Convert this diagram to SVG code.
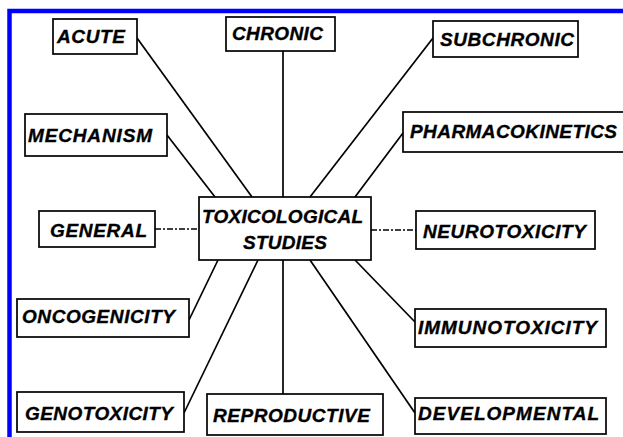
<svg xmlns="http://www.w3.org/2000/svg" width="623" height="437" viewBox="0 0 623 437">
  <style>
    .box { fill: #ffffff; stroke: #000000; stroke-width: 1.7; }
    .lbl { font-family: "Liberation Sans", Arial, sans-serif; font-size: 19px; font-weight: bold; font-style: italic; fill: #000000; stroke: #000000; stroke-width: 0.35; }
    .link { stroke: #000000; stroke-width: 1.7; fill: none; }
    .dash { stroke-dasharray: 6 2 2 2; }
  </style>
  <rect x="0" y="0" width="623" height="437" fill="#ffffff"/>
  <!-- blue frame: only the left and top edges fall inside the canvas -->
  <path d="M9.5 437 V11 H623" fill="none" stroke="#0000ff" stroke-width="4.5"/>

  <g id="connectors">
    <line class="link" x1="137" y1="38" x2="252" y2="197"/>
    <line class="link" x1="283" y1="51" x2="283" y2="197"/>
    <line class="link" x1="433" y1="38" x2="310" y2="197"/>
    <line class="link" x1="167" y1="135" x2="215" y2="197"/>
    <line class="link" x1="403" y1="133" x2="355" y2="197"/>
    <line class="link dash" x1="155" y1="229" x2="199" y2="229"/>
    <line class="link dash" x1="371" y1="230" x2="416" y2="230"/>
    <line class="link" x1="218" y1="260" x2="189" y2="320"/>
    <line class="link" x1="258" y1="260" x2="184" y2="413"/>
    <line class="link" x1="283" y1="260" x2="283" y2="394"/>
    <line class="link" x1="310" y1="260" x2="415" y2="413"/>
    <line class="link" x1="355" y1="260" x2="415" y2="322"/>
  </g>

  <g id="center">
    <rect class="box" x="199" y="197" width="172" height="63"/>
    <text class="lbl" x="202" y="223" textLength="161" lengthAdjust="spacing">TOXICOLOGICAL</text>
    <text class="lbl" x="243" y="249" textLength="84" lengthAdjust="spacing">STUDIES</text>
  </g>
  <g id="acute">
    <rect class="box" x="53" y="19" width="84" height="35"/>
    <text class="lbl" x="57" y="43" textLength="68" lengthAdjust="spacing">ACUTE</text>
  </g>
  <g id="chronic">
    <rect class="box" x="226" y="17" width="109" height="34"/>
    <text class="lbl" x="232" y="40" textLength="91" lengthAdjust="spacing">CHRONIC</text>
  </g>
  <g id="subchronic">
    <rect class="box" x="433" y="21" width="145" height="36"/>
    <text class="lbl" x="440" y="46" textLength="134" lengthAdjust="spacing">SUBCHRONIC</text>
  </g>
  <g id="mechanism">
    <rect class="box" x="25" y="114" width="142" height="42"/>
    <text class="lbl" x="28" y="142" textLength="124" lengthAdjust="spacing">MECHANISM</text>
  </g>
  <g id="pharmacokinetics">
    <rect class="box" x="403" y="112" width="240" height="40"/>
    <text class="lbl" x="410" y="138" textLength="207" lengthAdjust="spacing">PHARMACOKINETICS</text>
  </g>
  <g id="general">
    <rect class="box" x="39" y="211" width="116" height="36"/>
    <text class="lbl" x="50" y="237" textLength="97" lengthAdjust="spacing">GENERAL</text>
  </g>
  <g id="neurotoxicity">
    <rect class="box" x="416" y="211" width="179" height="38"/>
    <text class="lbl" x="423" y="238" textLength="163" lengthAdjust="spacing">NEUROTOXICITY</text>
  </g>
  <g id="oncogenicity">
    <rect class="box" x="17" y="299" width="172" height="38"/>
    <text class="lbl" x="22" y="323" textLength="153" lengthAdjust="spacing">ONCOGENICITY</text>
  </g>
  <g id="immunotoxicity">
    <rect class="box" x="415" y="309" width="191" height="38"/>
    <text class="lbl" x="418" y="334" textLength="179" lengthAdjust="spacing">IMMUNOTOXICITY</text>
  </g>
  <g id="genotoxicity">
    <rect class="box" x="17" y="392" width="167" height="40"/>
    <text class="lbl" x="25" y="420" textLength="148" lengthAdjust="spacing">GENOTOXICITY</text>
  </g>
  <g id="reproductive">
    <rect class="box" x="207" y="394" width="176" height="41"/>
    <text class="lbl" x="213" y="422" textLength="157" lengthAdjust="spacing">REPRODUCTIVE</text>
  </g>
  <g id="developmental">
    <rect class="box" x="415" y="398" width="191" height="36"/>
    <text class="lbl" x="418" y="420" textLength="181" lengthAdjust="spacing">DEVELOPMENTAL</text>
  </g>
</svg>
